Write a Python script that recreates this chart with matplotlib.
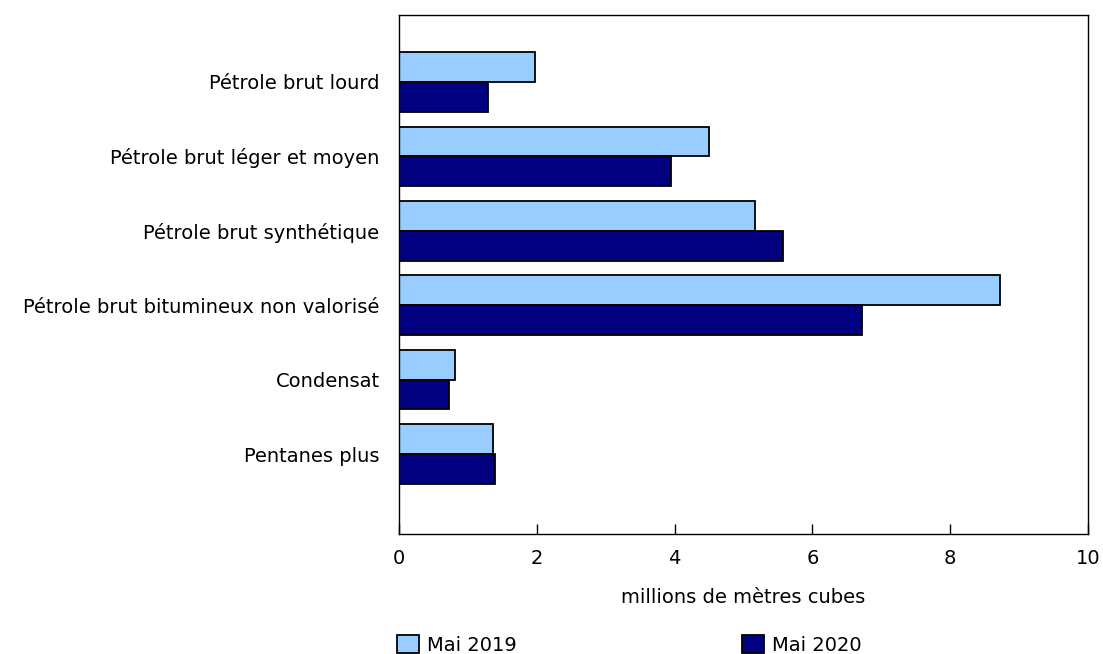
import matplotlib
matplotlib.use("Agg")
import matplotlib.pyplot as plt
import numpy as np

# Production by crude type, millions of cubic metres
categories = [
    "Pétrole brut lourd",
    "Pétrole brut léger et moyen",
    "Pétrole brut synthétique",
    "Pétrole brut bitumineux non valorisé",
    "Condensat",
    "Pentanes plus",
]
may_2019 = [1.98, 4.50, 5.17, 8.72, 0.81, 1.37]
may_2020 = [1.29, 3.95, 5.57, 6.72, 0.72, 1.40]
series_labels = ["Mai 2019", "Mai 2020"]
x_ticks = [0, 2, 4, 6, 8, 10]

light_blue = "#99ccff"
navy = "#000080"
fs = 14

fig = plt.figure(figsize=(11.03, 6.54), dpi=100)
ax = fig.add_axes([399 / 1103, 120 / 654, 689 / 1103, 519 / 654])

y = np.arange(len(categories))
h = 0.4
ax.barh(y - h / 2, may_2019, height=h, color=light_blue, edgecolor="black",
        linewidth=1.3, label=series_labels[0])
ax.barh(y + h / 2, may_2020, height=h, color=navy, edgecolor="black",
        linewidth=1.3, label=series_labels[1])

ax.set_xlim(0, 10)
ax.set_ylim(len(categories) - 1 + 1.075, -0.9)
ax.set_xticks(x_ticks)
ax.set_xticklabels([str(t) for t in x_ticks])
ax.set_yticks(y)
ax.set_yticklabels(categories)

ax.tick_params(axis="x", direction="in", length=7, width=1, labelsize=fs, pad=11)
ax.tick_params(axis="y", length=0, labelsize=fs, pad=14)
for s in ax.spines.values():
    s.set_linewidth(1)
    s.set_color("black")

ax.set_xlabel("millions de mètres cubes", fontsize=fs, labelpad=14)

fig.legend(loc="center left", bbox_to_anchor=(397 / 1103, 1 - 645 / 654),
           ncol=2, frameon=False, fontsize=fs, borderpad=0, borderaxespad=0,
           handlelength=1.13, handleheight=1.03, handletextpad=0.4,
           columnspacing=11.6)

fig.savefig("out.png", dpi=100)
